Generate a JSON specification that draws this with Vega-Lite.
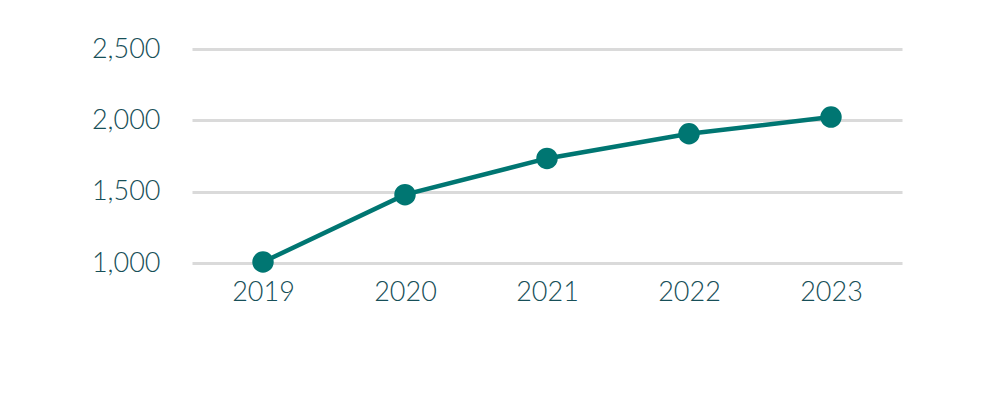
{
  "$schema": "https://vega.github.io/schema/vega-lite/v6.json",
  "width": 710,
  "height": 214,
  "autosize": {"type": "none"},
  "padding": {"left": 192, "top": 49, "right": 98, "bottom": 137},
  "background": "white",
  "data": {"values": [
    {"year": "2019", "value": 1007},
    {"year": "2020", "value": 1479},
    {"year": "2021", "value": 1733},
    {"year": "2022", "value": 1906},
    {"year": "2023", "value": 2023}
  ]},
  "config": {
    "view": {"stroke": null},
    "axis": {"labelFont": "Lato", "labelFontWeight": 300, "labelColor": "#174f58", "labelFontSize": 27}
  },
  "encoding": {
    "x": {"field": "year", "type": "ordinal", "scale": {"type": "point", "padding": 0.5},
      "axis": {"title": null, "labelAngle": 0, "domain": false, "ticks": false, "labelPadding": 16, "grid": false}},
    "y": {"field": "value", "type": "quantitative", "scale": {"domain": [1000, 2500], "zero": false, "nice": false},
      "axis": {"title": null, "values": [1000, 1500, 2000, 2500], "format": ",d", "domain": false, "ticks": false, "labelPadding": 32, "gridColor": "#dadada", "gridWidth": 3}}
  },
  "layer": [
    {"mark": {"type": "line", "color": "#007672", "strokeWidth": 4.5}},
    {"mark": {"type": "point", "filled": true, "opacity": 1, "color": "#007672", "size": 460}}
  ]
}
